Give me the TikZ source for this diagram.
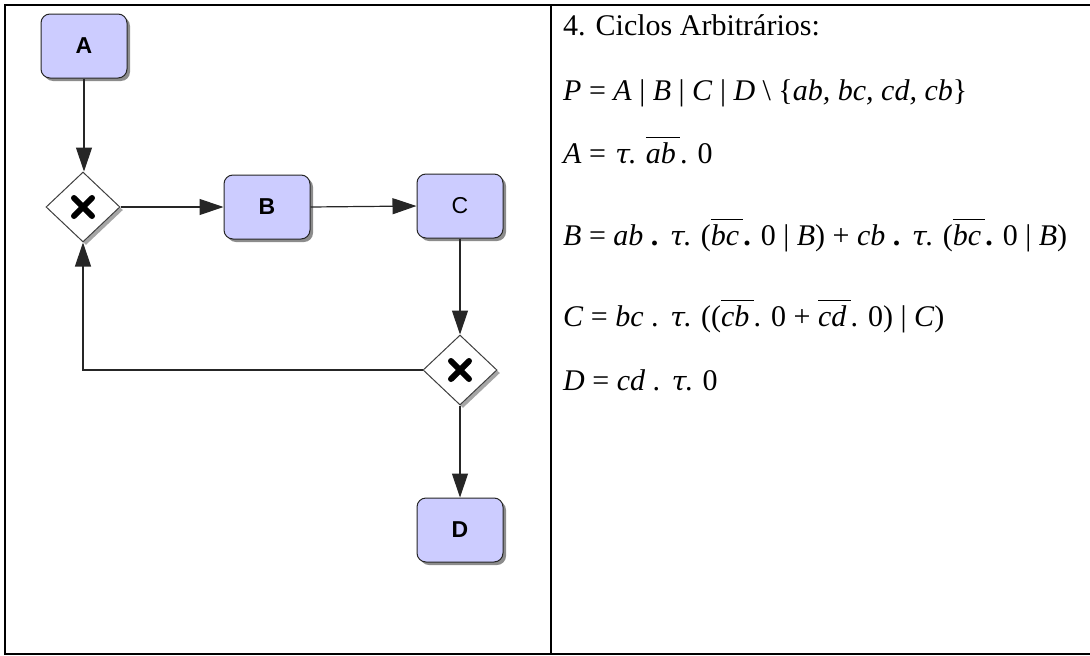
\documentclass[tikz,border=0pt]{standalone}
\usepackage{fontspec}
\setmainfont{Liberation Serif}
\newfontfamily\boxfont{Liberation Sans}
\newfontfamily\greekfont[FakeSlant=0.22]{DejaVu Serif}
\usetikzlibrary{shapes.geometric,arrows.meta,shadows}
\newcommand{\ovl}[1]{$\overline{\mbox{\rule{0pt}{0.8em}\textit{#1}}\,}$}
\newcommand{\tauv}{{\greekfont\fontsize{27}{27}\selectfont τ}}
\begin{document}
\begin{tikzpicture}[x=1pt,y=-1pt,
  task/.style={draw=black!85, line width=1pt, fill={rgb,255:red,204;green,204;blue,255},
    rounded corners=9pt, minimum width=86pt, minimum height=64pt, inner sep=0pt,
    font=\boxfont\fontsize{23}{23}\selectfont\bfseries,
    general shadow={fill=black!45, shadow xshift=3pt, shadow yshift=-3pt}},
  gate/.style={diamond, draw=black!75, line width=1pt, fill=white, inner sep=0pt,
    minimum width=74pt, minimum height=70pt,
    general shadow={fill=black!35, shadow xshift=3pt, shadow yshift=-3pt}},
  xmark/.style={line width=6pt, line cap=round, black},
  flow/.style={draw=black!85, line width=1.2pt, -{Triangle[length=24pt,width=16pt]}},
  frame/.style={line width=2pt, black},
  eq/.style={anchor=base west, inner sep=0pt, font=\fontsize{30}{30}\selectfont}]
\useasboundingbox (0,0) rectangle (1090,656);

% table frame
\draw[frame] (1090,5) -- (5,5) -- (5,654) -- (1090,654);
\draw[frame] (551,5) -- (551,654);

% process nodes
\node[task] (a) at (84,46) {A};
\node[gate] (g1) at (83,207) {};
\node[task] (b) at (267,207) {B};
\node[task, font=\boxfont\fontsize{23}{23}\selectfont] (c) at (460,206) {C};
\node[gate] (g2) at (460,370) {};
\node[task] (d) at (460,530) {D};

% exclusive gateway marks
\foreach \g in {g1,g2}{
  \draw[xmark] ([shift={(-9,-9)}]\g.center) -- ([shift={(9,9)}]\g.center);
  \draw[xmark] ([shift={(-9,9)}]\g.center) -- ([shift={(9,-9)}]\g.center);
}

% sequence flows
\draw[flow] (a.south) -- (a.south |- g1.north);
\draw[flow] (g1.east) -- (b.west);
\draw[flow] (b.east) -- (c.west);
\draw[flow] (c.south) -- (g2.north);
\draw[flow] (g2.west) -- (g1.south |- g2.west) -- (g1.south);
\draw[flow] (g2.south) -- (d.north);

% process algebra
\node[eq] (t0) at (563,35) {4. Ciclos Arbitrários:};
\node[eq] (t1) at (563,100) {\textit{P} = \textit{A} | \textit{B} | \textit{C} | \textit{D} \textbackslash\ \{\textit{ab, bc, cd, cb}\}};
\node[eq] (t2) at (563,163) {\textit{A} = \tauv. \ovl{ab}. 0};
\node[eq] (t3) at (563,245) {\textit{B} = \textit{ab} \textbf{.} \tauv. (\ovl{bc}\textbf{.} 0 | \textit{B}) + \textit{cb} \textbf{.} \tauv. (\ovl{bc}\textbf{.} 0 | \textit{B})};
\node[eq] (t4) at (563,326) {\textit{C} = \textit{bc} . \tauv. ((\ovl{cb}. 0 + \ovl{cd}. 0) | \textit{C})};
\node[eq] (t5) at (563,390) {\textit{D} = \textit{cd} . \tauv. 0};
\end{tikzpicture}
\end{document}
